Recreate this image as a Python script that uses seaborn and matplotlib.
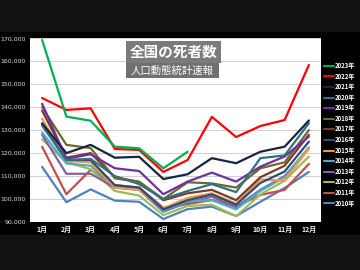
import numpy as np
import pandas as pd
import matplotlib
matplotlib.use("Agg")
import matplotlib.pyplot as plt
from matplotlib.patches import Rectangle
from matplotlib.lines import Line2D
import seaborn as sns

months = ["1月", "2月", "3月", "4月", "5月", "6月", "7月", "8月", "9月", "10月", "11月", "12月"]
years = [2010, 2011, 2012, 2013, 2014, 2015, 2016, 2017, 2018, 2019, 2020, 2021, 2022, 2023]

d2010 = [114000, 98600, 104200, 99300, 98800, 91300, 95600, 96700, 92600, 98800, 104800, 111800]
d2011 = [122800, 102100, 112700, 106100, 105000, 96200, 97800, 99600, 96700, 101800, 104000, 115300]
d2012 = [126000, 116000, 113000, 103500, 101500, 93000, 97000, 97500, 92500, 102000, 108000, 118500]
d2013 = [128000, 111000, 111000, 105000, 104000, 94500, 98500, 101000, 96500, 104000, 110000, 122000]
d2014 = [129000, 115500, 114500, 105500, 104500, 95000, 99000, 99500, 95500, 103500, 109500, 122500]
d2015 = [135000, 116500, 116000, 105000, 104000, 96000, 100500, 102500, 98000, 108500, 108000, 122000]
d2016 = [132500, 117000, 117000, 106000, 105000, 95500, 99500, 102000, 97500, 107000, 112000, 125000]
d2017 = [138500, 118000, 120000, 109500, 107500, 99500, 102500, 104000, 99500, 109500, 114500, 128000]
d2018 = [140000, 123600, 122200, 109000, 107500, 100000, 107300, 106800, 105000, 113400, 116000, 130000]
d2019 = [141500, 117500, 119500, 113400, 112200, 102100, 107600, 111500, 107600, 114100, 118500, 127200]
d2020 = [132000, 117000, 117500, 110000, 106500, 100000, 103500, 106500, 103000, 117800, 119000, 133000]
d2021 = [133000, 120000, 123600, 118000, 118400, 108700, 110800, 117800, 115600, 120600, 122800, 134200]
d2022 = [144000, 138800, 139500, 121800, 121400, 111800, 117000, 135800, 127000, 131800, 134400, 158400]
d2023 = [169300, 135900, 134100, 122800, 122100, 113400, 120600]

series = {2010: d2010, 2011: d2011, 2012: d2012, 2013: d2013, 2014: d2014, 2015: d2015,
          2016: d2016, 2017: d2017, 2018: d2018, 2019: d2019, 2020: d2020, 2021: d2021,
          2022: d2022, 2023: d2023}

colors = {2023: "#00b050", 2022: "#ff0000", 2021: "#17253f", 2020: "#31707f",
          2019: "#7030a0", 2018: "#6b6b2a", 2017: "#7a3b2a", 2016: "#2c4d75",
          2015: "#f79646", 2014: "#4bacc6", 2013: "#8064a2", 2012: "#9bbb59",
          2011: "#c0504d", 2010: "#4f81bd"}

rows = []
for y in years:
    for i, v in enumerate(series[y]):
        rows.append({"year": str(y), "month": i, "deaths": v})
df = pd.DataFrame(rows)

sns.set_theme(style="white")
plt.rcParams["font.family"] = ["Noto Sans CJK JP", "DejaVu Sans"]

fig = plt.figure(figsize=(3.6, 2.7), dpi=100)
fig.patch.set_facecolor("#111111")

bg = fig.add_axes([0, 35/270, 1, (238-35)/270], zorder=-5)
bg.set_facecolor("black")
bg.set_xticks([])
bg.set_yticks([])
for s in bg.spines.values():
    s.set_visible(False)

ax = fig.add_axes([30/360, 1-222/270, (321-30)/360, (222-38.3)/270], zorder=1)
ax.set_facecolor("white")

pal = {str(y): colors[y] for y in years}
sns.lineplot(data=df, x="month", y="deaths", hue="year", hue_order=[str(y) for y in years],
             palette=pal, linewidth=1.6, ax=ax, legend=False, sort=False)

ax.set_ylim(90000, 170000)
ax.set_xlim(-0.5, 11.5)
ax.set_yticks(np.arange(90000, 170001, 10000))
ax.set_yticklabels([f"{v:,}" for v in range(90000, 170001, 10000)], fontsize=4.5,
                   color="#dddddd", family="DejaVu Sans")
ax.set_xticks(range(12))
ax.set_xticklabels(months, fontsize=5, color="#eeeeee", fontweight="bold")
ax.tick_params(axis="both", length=0, pad=3)
ax.grid(axis="y", color="#d0d0d0", linewidth=0.7)
ax.set_axisbelow(True)
ax.set_xlabel("")
ax.set_ylabel("")
for s in ax.spines.values():
    s.set_visible(False)

# title boxes
ax.add_patch(Rectangle((126/360, 1-63/270), (221-126)/360, 22/270, transform=fig.transFigure,
                       facecolor="#7b7b7b", edgecolor="none", zorder=5, clip_on=False))
ax.add_patch(Rectangle((126/360, 1-78/270), (219-126)/360, 15/270, transform=fig.transFigure,
                       facecolor="#707070", edgecolor="none", zorder=5, clip_on=False))
ax.text(173.5/360, 1-52/270, "全国の死者数", color="white", fontsize=10.5, fontweight="bold",
        ha="center", va="center", zorder=6, transform=fig.transFigure)
ax.text(172/360, 1-70.5/270, "人口動態統計速報", color="white", fontsize=7.5,
        ha="center", va="center", zorder=6, transform=fig.transFigure)

# legend
handles = [Line2D([0], [0], color=colors[y], linewidth=1.5) for y in reversed(years)]
labels = [f"{y}年" for y in reversed(years)]
leg = fig.legend(handles, labels, loc="upper left", bbox_to_anchor=(324/360, 1-62/270),
                 frameon=False, fontsize=4.3, labelcolor="white", handlelength=1.6,
                 handletextpad=0.2, labelspacing=0.6, borderpad=0, borderaxespad=0)
for t in leg.get_texts():
    t.set_fontweight("bold")

fig.savefig("out.png", dpi=100, facecolor=fig.get_facecolor())
